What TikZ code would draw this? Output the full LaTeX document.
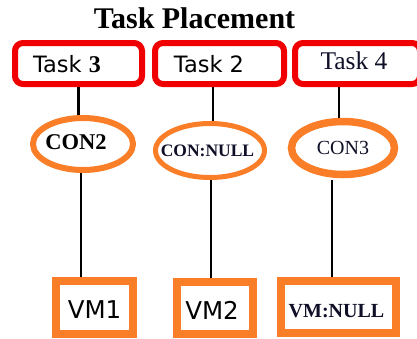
\documentclass[tikz,border=0pt]{standalone}
\usepackage{fontspec}
\setmainfont{Liberation Serif}
\newfontfamily\dvsans{DejaVu Sans}
\usetikzlibrary{shapes.geometric}
\definecolor{tred}{RGB}{240,0,0}
\definecolor{torange}{RGB}{250,125,40}
\definecolor{tnavy}{RGB}{15,15,40}
\tikzset{
  taskbox/.style={draw=tred, line width=6pt, rounded corners=8pt, fill=white, inner sep=0pt},
  conell/.style={draw=torange, ellipse, fill=white, inner sep=0pt},
  vmbox/.style={draw=torange, line width=8pt, fill=white, inner sep=0pt},
  link/.style={draw=black, line width=2.8pt},
}
\begin{document}
\begin{tikzpicture}[x=1pt,y=-1pt]
\useasboundingbox (0,0) rectangle (417,338);
\clip (0,0) rectangle (417,338);
% title
\node[font=\fontsize{30}{31}\selectfont\bfseries, anchor=base] (title) at (194.5,28) {Task Placement};
% task boxes
\node[taskbox, minimum width=127pt, minimum height=41pt] (t1) at (78.5,63.5) {};
\node[taskbox, minimum width=129pt, minimum height=41pt] (t2) at (219.5,63.5) {};
\node[taskbox, minimum width=125pt, minimum height=41pt] (t3) at (357.5,63.5) {};
\node[anchor=base] (t1txt) at (67,72) {{\dvsans\fontsize{22.5}{24}\selectfont Task }{\fontsize{24}{25}\selectfont\bfseries 3}};
\node[anchor=base, font=\dvsans\fontsize{22.5}{24}\selectfont] (t2txt) at (209,72) {Task 2};
\node[anchor=base, font=\fontsize{25.5}{26}\selectfont, text=tnavy] (t3txt) at (354,69.5) {Task 4};
% ellipses
\node[conell, line width=6pt, minimum width=100pt, minimum height=52pt] (e1) at (83,144) {};
\node[conell, line width=5pt, minimum width=109pt, minimum height=54pt] (e2) at (210,150.5) {};
\node[conell, line width=7.5pt, minimum width=103pt, minimum height=53pt] (e3) at (343,148) {};
\node[anchor=base, font=\fontsize{22.5}{24}\selectfont\bfseries] (e1txt) at (76,149.5) {CON2};
\node[anchor=base, font=\fontsize{17.5}{19}\selectfont\bfseries, text=tnavy] (e2txt) at (207.5,156.5) {CON:NULL};
\node[anchor=base, font=\fontsize{20}{22}\selectfont, text=tnavy] (e3txt) at (343,154) {CON3};
% VM boxes
\node[vmbox, minimum width=77pt, minimum height=53pt] (v1) at (94.5,307.5) {};
\node[vmbox, minimum width=76pt, minimum height=52pt] (v2) at (215,308) {};
\node[vmbox, minimum width=115pt, minimum height=52pt] (v3) at (338.5,307) {};
\node[anchor=base, font=\dvsans\fontsize{24.5}{26}\selectfont] (v1txt) at (94.5,318) {VM1};
\node[anchor=base, font=\dvsans\fontsize{24.5}{26}\selectfont] (v2txt) at (212,319) {VM2};
\node[anchor=base, font=\fontsize{20}{22}\selectfont\bfseries, text=tnavy] (v3txt) at (336.5,317) {VM:NULL};
% connectors
\draw[link] (t1.south) -- (t1.south |- e1.north);
\draw[link] ([xshift=-6.5pt]t2.south) -- ([xshift=-6.5pt]t2.south |- e2.north);
\draw[link] ([xshift=-4pt]e3.north |- t3.south) -- ([xshift=-4pt]e3.north);
\draw[link] ([xshift=-2pt]e1.south) -- ([xshift=-2pt]e1.south |- v1.north);
\draw[link] ([xshift=1pt]e2.south) -- ([xshift=1pt]e2.south |- v2.north);
\draw[link] ([xshift=-11pt,yshift=-2pt]e3.south) -- ([xshift=-11pt]e3.south |- v3.north);
\end{tikzpicture}
\end{document}
